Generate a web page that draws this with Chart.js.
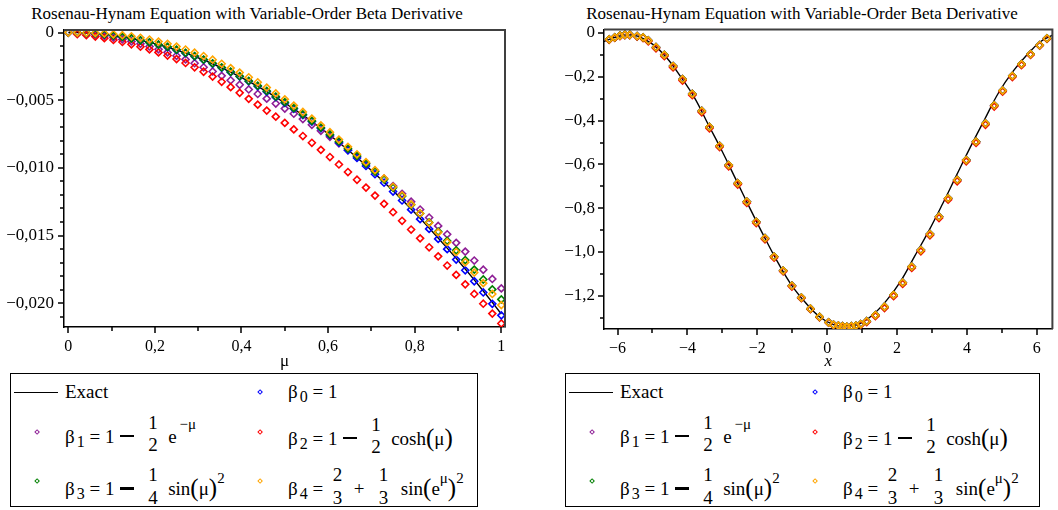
<!DOCTYPE html>
<html>
<head>
<meta charset="utf-8">
<script src="https://cdn.jsdelivr.net/npm/chart.js@4.4.0/dist/chart.umd.min.js"></script>
<style>
  html, body { margin: 0; padding: 0; background: #fff; }
  #wrap { position: relative; width: 1058px; height: 510px; overflow: hidden; font-family: 'Liberation Serif', 'Times New Roman', serif; color: #000; }
  canvas { position: absolute; top: 0; }
  #grafico-mu { left: 0; }
  #grafico-x { left: 530px; }
  .titulo { position: absolute; top: 4px; width: 500px; text-align: center; font-size: 17px; line-height: 20px; white-space: nowrap; }
  .legenda { position: absolute; top: 373px; height: 132px; border: 1.5px solid #000; background: #fff; }
  .legenda .item { position: absolute; font-size: 19px; line-height: 19px; white-space: nowrap; }
  .legenda .amostra { position: absolute; left: 3px; top: 17.5px; width: 44px; height: 1.5px; background: #000; }
  .legenda .marca { position: absolute; width: 2.2px; height: 2.2px; border: 1.3px solid; transform: rotate(45deg); }
  .sub { font-size: 16px; position: relative; top: 4px; margin-left: 2px; }
  .sup { font-size: 15px; position: relative; top: -14px; }
  .sup2 { font-size: 15px; position: relative; top: -12px; }
  .fr { display: inline-block; position: relative; width: 11px; height: 0; margin: 0 5px 0 6px; }
  .fr > span { position: absolute; left: 0; right: 0; text-align: center; line-height: 19px; }
  .fr .n { top: -29.9px; }
  .fr .d { top: -7.4px; }
  .menos { display: inline-block; width: 14px; height: 2.4px; background: #000; vertical-align: 5.5px; margin: 0 7px 0 6px; }
  .par { font-size: 25px; position: relative; top: 1px; }
</style>
</head>
<body>
<div id="wrap">
  <div class="titulo" style="left:-3px">Rosenau-Hynam Equation with Variable-Order Beta Derivative</div>
  <div class="titulo" style="left:552px">Rosenau-Hynam Equation with Variable-Order Beta Derivative</div>
  <canvas id="grafico-mu" width="530" height="372"></canvas>
  <canvas id="grafico-x" width="528" height="372"></canvas>
  <div class="legenda" id="legenda-mu" style="left:10px;width:466px"></div>
  <div class="legenda" id="legenda-x" style="left:565px;width:473px"></div>
</div>
<script>
/* --- Dados: grafico em mu (esquerda) --- */
const MU = [0, 0.0208, 0.0417, 0.0625, 0.0833, 0.1042, 0.125, 0.1458, 0.1667, 0.1875, 0.2083, 0.2292, 0.25,
  0.2708, 0.2917, 0.3125, 0.3333, 0.3542, 0.375, 0.3958, 0.4167, 0.4375, 0.4583, 0.4792, 0.5, 0.5208, 0.5417,
  0.5625, 0.5833, 0.6042, 0.625, 0.6458, 0.6667, 0.6875, 0.7083, 0.7292, 0.75, 0.7708, 0.7917, 0.8125, 0.8333,
  0.8542, 0.875, 0.8958, 0.9167, 0.9375, 0.9583, 0.9792, 1];

const MU_EXATA = [0, -0.00001, -0.00004, -0.00008, -0.00014, -0.00023, -0.00033, -0.00044, -0.00058, -0.00073,
  -0.00090, -0.00109, -0.00130, -0.00153, -0.00177, -0.00203, -0.00231, -0.00261, -0.00293, -0.00326, -0.00361,
  -0.00398, -0.00437, -0.00478, -0.00520, -0.00564, -0.00610, -0.00658, -0.00708, -0.00759, -0.00813, -0.00868,
  -0.00924, -0.00983, -0.01044, -0.01106, -0.01170, -0.01236, -0.01304, -0.01373, -0.01444, -0.01518, -0.01593,
  -0.01669, -0.01748, -0.01828, -0.01910, -0.01994, -0.02080];

const MU_BETA0 = [0, -0.00001, -0.00004, -0.00008, -0.00014, -0.00023, -0.00033, -0.00044, -0.00058, -0.00073,
  -0.00090, -0.00109, -0.00130, -0.00153, -0.00177, -0.00203, -0.00231, -0.00261, -0.00293, -0.00326, -0.00361,
  -0.00398, -0.00437, -0.00478, -0.00520, -0.00564, -0.00610, -0.00658, -0.00708, -0.00759, -0.00813, -0.00870,
  -0.00927, -0.00986, -0.01047, -0.01110, -0.01175, -0.01241, -0.01309, -0.01379, -0.01451, -0.01525, -0.01601,
  -0.01678, -0.01757, -0.01838, -0.01921, -0.02005, -0.02090];

const MU_BETA1 = [0, -0.00003, -0.00009, -0.00016, -0.00025, -0.00037, -0.00051, -0.00066, -0.00084, -0.00103,
  -0.00124, -0.00147, -0.00172, -0.00199, -0.00227, -0.00257, -0.00288, -0.00320, -0.00353, -0.00386, -0.00421,
  -0.00454, -0.00489, -0.00525, -0.00562, -0.00600, -0.00640, -0.00682, -0.00726, -0.00771, -0.00819, -0.00868,
  -0.00918, -0.00970, -0.01024, -0.01079, -0.01135, -0.01192, -0.01250, -0.01308, -0.01367, -0.01429, -0.01491,
  -0.01554, -0.01619, -0.01685, -0.01753, -0.01821, -0.01891];

const MU_BETA2 = [0, -0.00012, -0.00020, -0.00030, -0.00042, -0.00055, -0.00070, -0.00087, -0.00105, -0.00125,
  -0.00147, -0.00170, -0.00196, -0.00225, -0.00257, -0.00290, -0.00326, -0.00364, -0.00404, -0.00446, -0.00490,
  -0.00533, -0.00577, -0.00622, -0.00668, -0.00716, -0.00765, -0.00815, -0.00867, -0.00920, -0.00975, -0.01031,
  -0.01088, -0.01146, -0.01205, -0.01266, -0.01328, -0.01391, -0.01456, -0.01521, -0.01587, -0.01654, -0.01722,
  -0.01791, -0.01861, -0.01932, -0.02004, -0.02077, -0.02150];

const MU_BETA3 = [0, -0.00001, -0.00004, -0.00008, -0.00014, -0.00023, -0.00033, -0.00044, -0.00058, -0.00073,
  -0.00090, -0.00106, -0.00127, -0.00150, -0.00174, -0.00200, -0.00228, -0.00258, -0.00290, -0.00323, -0.00358,
  -0.00393, -0.00432, -0.00473, -0.00515, -0.00559, -0.00605, -0.00653, -0.00703, -0.00753, -0.00805, -0.00858,
  -0.00912, -0.00969, -0.01027, -0.01086, -0.01147, -0.01209, -0.01273, -0.01337, -0.01403, -0.01471, -0.01540,
  -0.01609, -0.01681, -0.01752, -0.01825, -0.01898, -0.01972];

const MU_BETA4 = [0, -0.00001, -0.00002, -0.00004, -0.00007, -0.00013, -0.00020, -0.00028, -0.00039, -0.00052,
  -0.00067, -0.00084, -0.00104, -0.00126, -0.00149, -0.00174, -0.00201, -0.00231, -0.00263, -0.00296, -0.00331,
  -0.00368, -0.00407, -0.00450, -0.00494, -0.00540, -0.00587, -0.00636, -0.00686, -0.00737, -0.00791, -0.00845,
  -0.00900, -0.00958, -0.01017, -0.01078, -0.01140, -0.01204, -0.01270, -0.01337, -0.01406, -0.01477, -0.01549,
  -0.01622, -0.01698, -0.01774, -0.01852, -0.01932, -0.02014];

const MU_X_MAIOR = [0, 0.2, 0.4, 0.6, 0.8, 1];
const MU_X_ROTULOS = ['0', '0,2', '0,4', '0,6', '0,8', '1'];
const MU_X_MENOR = [0.1, 0.3, 0.5, 0.7, 0.9];
const MU_Y_MAIOR = [0, -0.005, -0.010, -0.015, -0.020];
const MU_Y_ROTULOS = ['0', '−0,005', '−0,010', '−0,015', '−0,020'];
const MU_Y_MENOR = [-0.001, -0.002, -0.003, -0.004, -0.006, -0.007, -0.008, -0.009, -0.011, -0.012, -0.013,
  -0.014, -0.016, -0.017, -0.018, -0.019, -0.021];

/* --- Dados: grafico em x (direita) --- */
const X_PONTOS = [-6.24, -6.08, -5.93, -5.79, -5.65, -5.44, -5.27, -5.12, -4.90, -4.66, -4.41, -4.14, -3.86,
  -3.59, -3.37, -3.08, -2.82, -2.56, -2.30, -2.03, -1.78, -1.52, -1.26, -1.01, -0.74, -0.48, -0.22, 0.04, 0.18,
  0.32, 0.44, 0.56, 0.69, 0.82, 0.96, 1.13, 1.38, 1.64, 1.90, 2.16, 2.42, 2.68, 2.94, 3.20, 3.46, 3.72, 3.98,
  4.26, 4.53, 4.78, 5.02, 5.30, 5.56, 5.82, 6.08, 6.29];

const X_BETAS = [-0.029, -0.020, -0.012, -0.008, -0.008, -0.014, -0.020, -0.034, -0.065, -0.100, -0.151, -0.211,
  -0.278, -0.356, -0.429, -0.515, -0.603, -0.686, -0.770, -0.862, -0.937, -1.021, -1.085, -1.154, -1.208, -1.259,
  -1.296, -1.321, -1.332, -1.336, -1.339, -1.341, -1.339, -1.336, -1.329, -1.316, -1.288, -1.250, -1.196, -1.140,
  -1.067, -0.991, -0.918, -0.839, -0.755, -0.671, -0.580, -0.496, -0.413, -0.330, -0.263, -0.196, -0.142, -0.096,
  -0.055, -0.024];

const X_BETA2 = [-0.031, -0.022, -0.014, -0.010, -0.010, -0.016, -0.023, -0.038, -0.070, -0.106, -0.157, -0.217,
  -0.284, -0.362, -0.435, -0.521, -0.609, -0.692, -0.776, -0.868, -0.942, -1.026, -1.089, -1.158, -1.211, -1.261,
  -1.298, -1.323, -1.334, -1.338, -1.341, -1.343, -1.341, -1.338, -1.332, -1.320, -1.293, -1.256, -1.202, -1.146,
  -1.073, -0.997, -0.924, -0.845, -0.761, -0.677, -0.586, -0.502, -0.419, -0.336, -0.268, -0.201, -0.147, -0.100,
  -0.058, -0.027];

const X_LINHA = [-6.4, -6.0, -5.7, -5.4, -5.0, -4.6, -4.2, -3.8, -3.4, -3.0, -2.6, -2.2, -1.8, -1.4, -1.0, -0.6,
  -0.2, 0.2, 0.55, 0.9, 1.3, 1.7, 2.1, 2.5, 2.9, 3.3, 3.7, 4.1, 4.5, 4.9, 5.3, 5.7, 6.1, 6.45];
const X_EXATA = [-0.040, -0.016, -0.008, -0.0154, -0.051, -0.112, -0.198, -0.295, -0.419, -0.542, -0.673, -0.804,
  -0.931, -1.051, -1.156, -1.235, -1.298, -1.333, -1.338, -1.330, -1.288, -1.221, -1.134, -1.020, -0.906, -0.781,
  -0.650, -0.520, -0.396, -0.274, -0.179, -0.103, -0.040, -0.010];

const X_X_MAIOR = [-6, -4, -2, 0, 2, 4, 6];
const X_X_ROTULOS = ['−6', '−4', '−2', '0', '2', '4', '6'];
const X_X_MENOR = [-5, -3, -1, 1, 3, 5];
const X_Y_MAIOR = [0, -0.2, -0.4, -0.6, -0.8, -1.0, -1.2];
const X_Y_ROTULOS = ['0', '−0,2', '−0,4', '−0,6', '−0,8', '−1,0', '−1,2'];
const X_Y_MENOR = [-0.1, -0.3, -0.5, -0.7, -0.9, -1.1, -1.3];

const CORES = { b0: '#0000ff', b1: '#8e1e96', b2: '#ff0000', b3: '#008000', b4: '#ffa500' };

Chart.defaults.font.family = "'Liberation Serif', 'Times New Roman', serif";
Chart.defaults.color = '#000';

/* ticks maiores/menores e moldura superior/direita */
const moldura = {
  id: 'moldura',
  afterDraw(chart, args, opts) {
    const { ctx, chartArea: a } = chart;
    const sx = chart.scales.x;
    const sy = chart.scales.y;
    ctx.save();
    ctx.strokeStyle = '#000';
    ctx.lineWidth = 1.5;
    ctx.beginPath();
    const tx = (vals, len) => vals.forEach(v => {
      const p = Math.round(sx.getPixelForValue(v));
      ctx.moveTo(p, a.bottom); ctx.lineTo(p, a.bottom + len);
    });
    const ty = (vals, len) => vals.forEach(v => {
      const p = Math.round(sy.getPixelForValue(v));
      ctx.moveTo(a.left, p); ctx.lineTo(a.left - len, p);
    });
    tx(opts.xMaior, 6); tx(opts.xMenor, 4);
    ty(opts.yMaior, 6); ty(opts.yMenor, 4);
    ctx.stroke();
    ctx.strokeStyle = '#404040';
    ctx.lineWidth = 2;
    ctx.beginPath();
    ctx.moveTo(a.left, a.top); ctx.lineTo(a.right, a.top); ctx.lineTo(a.right, a.bottom);
    ctx.stroke();
    ctx.restore();
  }
};

function pontos(xs, ys) {
  return xs.map((x, i) => ({ x: x, y: ys[i] }));
}

function serieMarcas(label, xs, ys, cor) {
  return {
    label: label,
    data: pontos(xs, ys),
    pointStyle: 'rectRot',
    pointRadius: 3.5,
    borderWidth: 1.6,
    borderColor: cor,
    backgroundColor: 'rgba(255,255,255,0)',
    showLine: false,
  };
}

function serieLinha(xs, ys, tensao) {
  return {
    label: 'Exact',
    data: pontos(xs, ys),
    showLine: true,
    pointRadius: 0,
    borderColor: '#000',
    borderWidth: 1.4,
    tension: tensao,
  };
}

function criarGrafico(id, cfg) {
  const ctx = document.getElementById(id).getContext('2d');
  return new Chart(ctx, {
    type: 'scatter',
    data: { datasets: cfg.datasets },
    options: {
      responsive: false,
      animation: false,
      events: [],
      devicePixelRatio: 1,
      layout: { padding: cfg.padding },
      plugins: {
        legend: { display: false },
        tooltip: { enabled: false },
        moldura: { xMaior: cfg.xMaior, xMenor: cfg.xMenor, yMaior: cfg.yMaior, yMenor: cfg.yMenor },
      },
      scales: {
        x: {
          type: 'linear', min: cfg.xMin, max: cfg.xMax,
          afterBuildTicks: (s) => { s.ticks = cfg.xMaior.map(v => ({ value: v })); },
          afterFit: (s) => { s.height = cfg.altX; },
          ticks: { callback: (v, i) => cfg.xRotulos[i], padding: 10, maxRotation: 0, autoSkip: false, font: { size: 16 } },
          grid: { display: false, drawTicks: false },
          border: { display: true, color: '#000', width: 1.5 },
          title: { display: true, text: cfg.xTitulo, font: { size: 17, style: cfg.xEstilo }, padding: 0 },
        },
        y: {
          type: 'linear', min: cfg.yMin, max: cfg.yMax,
          afterBuildTicks: (s) => { s.ticks = cfg.yMaior.map(v => ({ value: v })); },
          afterFit: (s) => { s.width = cfg.largY; },
          ticks: { callback: (v, i) => cfg.yRotulos[i], padding: cfg.padY, autoSkip: false, font: { size: 17 } },
          grid: { display: false, drawTicks: false },
          border: { display: true, color: '#000', width: 1.5 },
        },
      },
    },
    plugins: [moldura],
  });
}

/* --- Grafico em mu --- */
criarGrafico('grafico-mu', {
  datasets: [
    serieMarcas('β4', MU, MU_BETA4, CORES.b4),
    serieMarcas('β3', MU, MU_BETA3, CORES.b3),
    serieMarcas('β0', MU, MU_BETA0, CORES.b0),
    serieMarcas('β2', MU, MU_BETA2, CORES.b2),
    serieMarcas('β1', MU, MU_BETA1, CORES.b1),
    serieLinha(MU, MU_EXATA, 0),
  ],
  padding: { top: 30, right: 25, left: 0, bottom: 0 },
  xMin: -0.0099, xMax: 1.0085, yMin: -0.02176, yMax: 0.000185,
  altX: 45, largY: 64, padY: 10,
  xMaior: MU_X_MAIOR, xRotulos: MU_X_ROTULOS, xMenor: MU_X_MENOR,
  yMaior: MU_Y_MAIOR, yRotulos: MU_Y_ROTULOS, yMenor: MU_Y_MENOR,
  xTitulo: 'μ', xEstilo: 'normal',
});

/* --- Grafico em x --- */
criarGrafico('grafico-x', {
  datasets: [
    serieMarcas('β4', X_PONTOS, X_BETAS, CORES.b4),
    serieMarcas('β3', X_PONTOS, X_BETAS, CORES.b3),
    serieMarcas('β2', X_PONTOS, X_BETA2, CORES.b2),
    serieMarcas('β1', X_PONTOS, X_BETAS, CORES.b1),
    serieMarcas('β0', X_PONTOS, X_BETAS, CORES.b0),
    serieLinha(X_LINHA, X_EXATA, 0.4),
  ],
  padding: { top: 29.5, right: 1, left: 0, bottom: 0 },
  xMin: -6.388, xMax: 6.445, yMin: -1.3516, yMax: 0.016,
  altX: 43, largY: 74, padY: 9,
  xMaior: X_X_MAIOR, xRotulos: X_X_ROTULOS, xMenor: X_X_MENOR,
  yMaior: X_Y_MAIOR, yRotulos: X_Y_ROTULOS, yMenor: X_Y_MENOR,
  xTitulo: 'x', xEstilo: 'italic',
});

/* --- Legendas (texto com formulas) --- */
const LEGENDA_HTML = `
  <div class="amostra"></div>
  <div class="item" style="left:54px;top:8px">Exact</div>
  <div class="marca" style="left:246.5px;top:15.5px;border-color:${CORES.b0}"></div>
  <div class="item" style="left:277px;top:8px">β<span class="sub">0</span> = 1</div>

  <div class="marca" style="left:23.5px;top:55.5px;border-color:${CORES.b1}"></div>
  <div class="item" style="left:54px;top:52.6px">β<span class="sub">1</span> = 1<span class="menos"></span><span class="fr"><span class="n">1</span><span class="d">2</span></span> e<span class="sup">&thinsp;−μ</span></div>
  <div class="marca" style="left:246.5px;top:55.5px;border-color:${CORES.b2}"></div>
  <div class="item" style="left:277px;top:52.6px">β<span class="sub">2</span> = 1<span class="menos"></span><span class="fr"><span class="n">1</span><span class="d">2</span></span> cosh<span class="par">(</span>μ<span class="par">)</span></div>

  <div class="marca" style="left:23.5px;top:104.5px;border-color:${CORES.b3}"></div>
  <div class="item" style="left:54px;top:103px">β<span class="sub">3</span> = 1<span class="menos"></span><span class="fr"><span class="n">1</span><span class="d">4</span></span> sin<span class="par">(</span>μ<span class="par">)</span><span class="sup2">2</span></div>
  <div class="marca" style="left:246.5px;top:104.5px;border-color:${CORES.b4}"></div>
  <div class="item" style="left:277px;top:103px">β<span class="sub">4</span> = <span class="fr" style="margin:0 6px 0 4px"><span class="n">2</span><span class="d">3</span></span> + <span class="fr" style="margin:0 7px 0 9px"><span class="n">1</span><span class="d">3</span></span> sin<span class="par">(</span>e<span class="sup2">μ</span><span class="par">)</span><span class="sup2">2</span></div>
`;

document.getElementById('legenda-mu').innerHTML = LEGENDA_HTML;
document.getElementById('legenda-x').innerHTML = LEGENDA_HTML;
</script>
</body>
</html>
